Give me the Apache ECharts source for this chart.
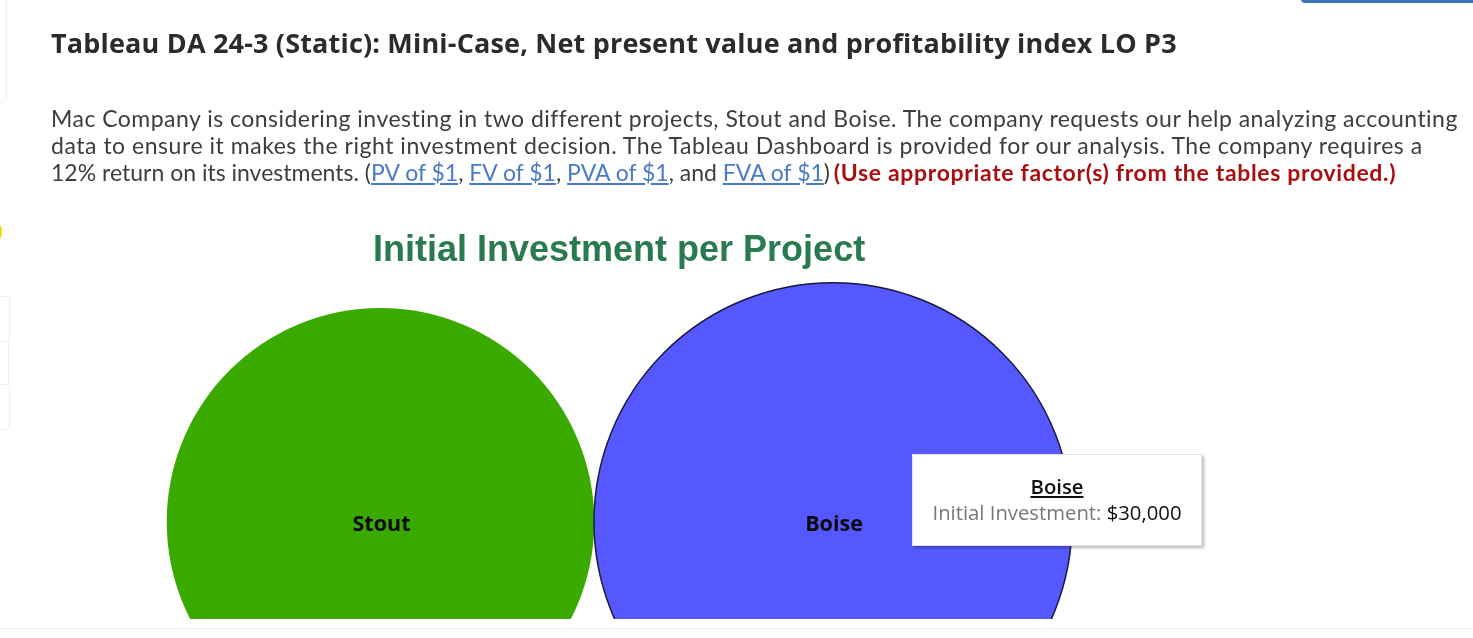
<!DOCTYPE html>
<html>
<head>
<meta charset="utf-8">
<style>
html,body{margin:0;padding:0;background:#fff;width:1473px;height:638px;overflow:hidden}
.t{position:absolute;white-space:nowrap;left:51px}
#head{top:26px;font:700 27px/34px "Open Sans",sans-serif;color:#2b2b2b;letter-spacing:.18px}
.b{font:400 23px/27px Lato,sans-serif;color:#3d3d3d;letter-spacing:.5px}
.b a{color:#4a7bc4;text-decoration:underline}
.b b{color:#a90f10;font-weight:700;letter-spacing:.66px;margin-left:-2px}
#chart{position:absolute;left:0;top:0;width:1473px;height:619px}
.box{position:absolute;border:1px solid #eee;background:#fff}
</style>
<script src="https://cdn.jsdelivr.net/npm/echarts@6/dist/echarts.min.js"></script>
</head>
<body>
<div id="chart"></div>
<div class="box" style="left:-8px;top:-6px;width:13px;height:107px;border-radius:5px"></div>
<div class="box" style="left:-8px;top:296px;width:16px;height:44px"></div>
<div class="box" style="left:-8px;top:341px;width:15px;height:42px"></div>
<div class="box" style="left:-8px;top:384px;width:16px;height:44px;border-radius:5px"></div>
<div style="position:absolute;left:-12px;top:221px;width:14px;height:22px;border-radius:50%;background:#ffd800"></div>
<div style="position:absolute;left:1301px;top:-6px;width:180px;height:9px;border-radius:4px;background:#3f74bd"></div>
<div style="position:absolute;left:0;top:628px;width:1473px;height:10px;background:#fdfdfd;border-top:1px solid #f1f1f1"></div>
<div class="t" id="head">Tableau DA 24-3 (Static): Mini-Case, Net present value and profitability index LO P3</div>
<div class="t b" style="top:105px;letter-spacing:.475px">Mac Company is considering investing in two different projects, Stout and Boise. The company requests our help analyzing accounting</div>
<div class="t b" style="top:132px;letter-spacing:.53px">data to ensure it makes the right investment decision. The Tableau Dashboard is provided for our analysis. The company requires a</div>
<div class="t b" style="top:159px;letter-spacing:0">12% return on its investments. (<a>PV of $1</a>, <a>FV of $1</a>, <a>PVA of $1</a>, and <a>FVA of $1</a>) <b>(Use appropriate factor(s) from the tables provided.)</b></div>
<script>
const chartTitle = 'Initial Investment per Project';
const projects = ['Stout', 'Boise'];
const measure = ['Initial Investment'];
const investment = [24000, 30000];
const colors = ['#3aaa00', '#5558ff'];
const borders = ['#3aaa00', '#1a1a40'];

const sizeFactor = 2.76;
const chart = echarts.init(document.getElementById('chart'), null, {renderer: 'canvas'});
chart.setOption({
  animation: false,
  title: {
    text: chartTitle, left: 368, top: 228,
    textStyle: {fontFamily: 'Liberation Sans', fontWeight: 700, fontSize: 36, color: '#2a7a50'}
  },
  grid: {left: 154.25, width: 905, top: 424.5, height: 200},
  xAxis: {type: 'category', data: projects, show: false},
  yAxis: {type: 'category', data: measure, show: false},
  tooltip: {
    trigger: 'item', triggerOn: 'none', alwaysShowContent: true, transitionDuration: 0,
    position: [912, 454],
    backgroundColor: '#fff', borderColor: '#e4e4e4', borderWidth: 1, padding: 0,
    extraCssText: 'box-shadow:2px 2px 3px rgba(0,0,0,.28);border-radius:0;',
    formatter: p =>
      '<div style="box-sizing:border-box;width:288px;height:90px;padding-top:18px;text-align:center;font-family:\'Open Sans\';font-size:20.3px;line-height:26px;color:#777">' +
      '<div style="color:#111;font-weight:600;text-decoration:underline">' + p.name + '</div>' +
      measure[0] + ': <span style="color:#111">$' + p.value[2].toLocaleString('en-US') + '</span></div>'
  },
  series: [{
    type: 'scatter',
    symbol: 'circle',
    clip: false,
    symbolSize: v => Math.sqrt(v[2]) * sizeFactor,
    data: projects.map((name, i) => ({
      name,
      value: [name, measure[0], investment[i]],
      itemStyle: {opacity: 1, color: colors[i], borderColor: borders[i], borderWidth: i === 1 ? 1.5 : 0}
    })),
    label: {
      show: true, position: 'inside', formatter: '{b}',
      fontFamily: 'Open Sans', fontWeight: 700, fontSize: 21.5, color: '#0a0a0a', offset: [1, 3]
    },
    emphasis: {disabled: true}
  }]
});
chart.dispatchAction({type: 'showTip', seriesIndex: 0, dataIndex: 1});
</script>
</body>
</html>
